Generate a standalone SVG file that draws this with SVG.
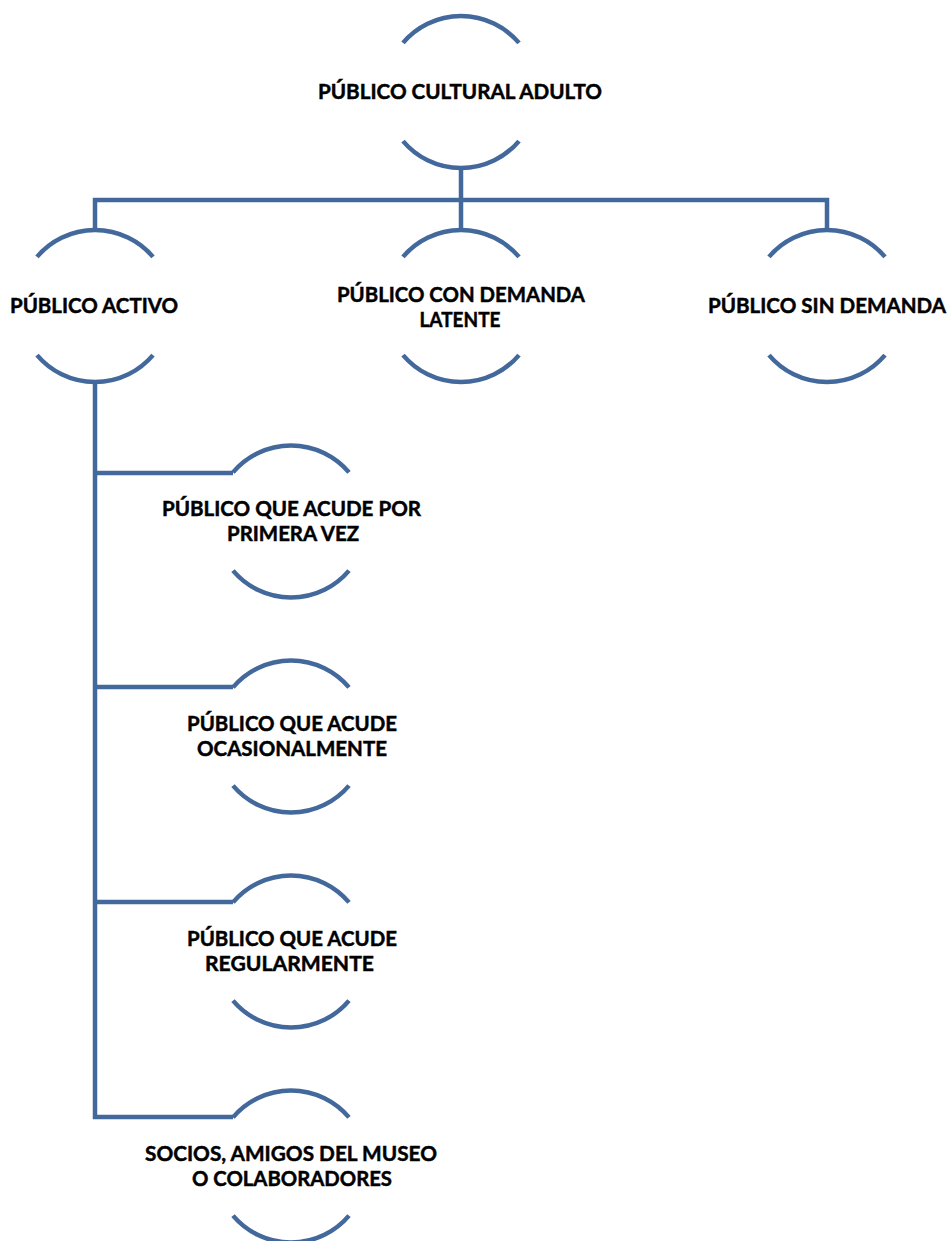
<svg xmlns="http://www.w3.org/2000/svg" width="950" height="1241" viewBox="0 0 950 1241">
<style>
.arc{fill:none;stroke:#43699C;stroke-width:4.5;stroke-linecap:butt}
.con{fill:none;stroke:#43699C;stroke-width:4.5;stroke-linejoin:miter}
.t{font-family:Lato,"Liberation Sans",sans-serif;font-weight:bold;font-size:20px;fill:#000;stroke:#000;stroke-width:0.45;text-anchor:middle}
</style>
<rect width="950" height="1241" fill="#fff"/>
<g id="connectors">
<path class="con" d="M461,168 V200"/>
<path class="con" d="M95,230 V200 H827 V230"/>
<path class="con" d="M461,200 V230"/>
<path class="con" d="M95,382 V1117 H233"/>
<path class="con" d="M95,473 H233"/>
<path class="con" d="M95,687 H233"/>
<path class="con" d="M95,902 H233"/>
</g>
<g id="n-root">
<path class="arc" d="M403,42.9 A76,76 0 0 1 519,42.9"/>
<path class="arc" d="M403,141.1 A76,76 0 0 0 519,141.1"/>
<text class="t" x="460" y="99" textLength="284" lengthAdjust="spacingAndGlyphs">PÚBLICO CULTURAL ADULTO</text>
</g>
<g id="n-activo">
<path class="arc" d="M37,256.9 A76,76 0 0 1 153,256.9"/>
<path class="arc" d="M37,355.1 A76,76 0 0 0 153,355.1"/>
<text class="t" x="94" y="313" textLength="168" lengthAdjust="spacingAndGlyphs">PÚBLICO ACTIVO</text>
</g>
<g id="n-latente">
<path class="arc" d="M403,256.9 A76,76 0 0 1 519,256.9"/>
<path class="arc" d="M403,355.1 A76,76 0 0 0 519,355.1"/>
<text class="t" x="461" y="302" textLength="248" lengthAdjust="spacingAndGlyphs">PÚBLICO CON DEMANDA</text>
<text class="t" x="460" y="327" textLength="81" lengthAdjust="spacingAndGlyphs">LATENTE</text>
</g>
<g id="n-sin">
<path class="arc" d="M769,256.9 A76,76 0 0 1 885,256.9"/>
<path class="arc" d="M769,355.1 A76,76 0 0 0 885,355.1"/>
<text class="t" x="827" y="313" textLength="238" lengthAdjust="spacingAndGlyphs">PÚBLICO SIN DEMANDA</text>
</g>
<g id="n-primera">
<path class="arc" d="M233,472.4 A76,76 0 0 1 349,472.4"/>
<path class="arc" d="M233,570.6 A76,76 0 0 0 349,570.6"/>
<text class="t" x="291.5" y="515.5" textLength="259" lengthAdjust="spacingAndGlyphs">PÚBLICO QUE ACUDE POR</text>
<text class="t" x="293" y="541" textLength="132" lengthAdjust="spacingAndGlyphs">PRIMERA VEZ</text>
</g>
<g id="n-ocasional">
<path class="arc" d="M233,687.4 A76,76 0 0 1 349,687.4"/>
<path class="arc" d="M233,785.6 A76,76 0 0 0 349,785.6"/>
<text class="t" x="292" y="730.5" textLength="210" lengthAdjust="spacingAndGlyphs">PÚBLICO QUE ACUDE</text>
<text class="t" x="292" y="756" textLength="190" lengthAdjust="spacingAndGlyphs">OCASIONALMENTE</text>
</g>
<g id="n-regular">
<path class="arc" d="M233,902.4 A76,76 0 0 1 349,902.4"/>
<path class="arc" d="M233,1000.6 A76,76 0 0 0 349,1000.6"/>
<text class="t" x="292" y="945.5" textLength="210" lengthAdjust="spacingAndGlyphs">PÚBLICO QUE ACUDE</text>
<text class="t" x="289.5" y="971" textLength="169" lengthAdjust="spacingAndGlyphs">REGULARMENTE</text>
</g>
<g id="n-socios">
<path class="arc" d="M233,1117.4 A76,76 0 0 1 349,1117.4"/>
<path class="arc" d="M233,1215.6 A76,76 0 0 0 349,1215.6"/>
<text class="t" x="291" y="1160.5" textLength="292" lengthAdjust="spacingAndGlyphs">SOCIOS, AMIGOS DEL MUSEO</text>
<text class="t" x="292" y="1186" textLength="200" lengthAdjust="spacingAndGlyphs">O COLABORADORES</text>
</g>
</svg>
